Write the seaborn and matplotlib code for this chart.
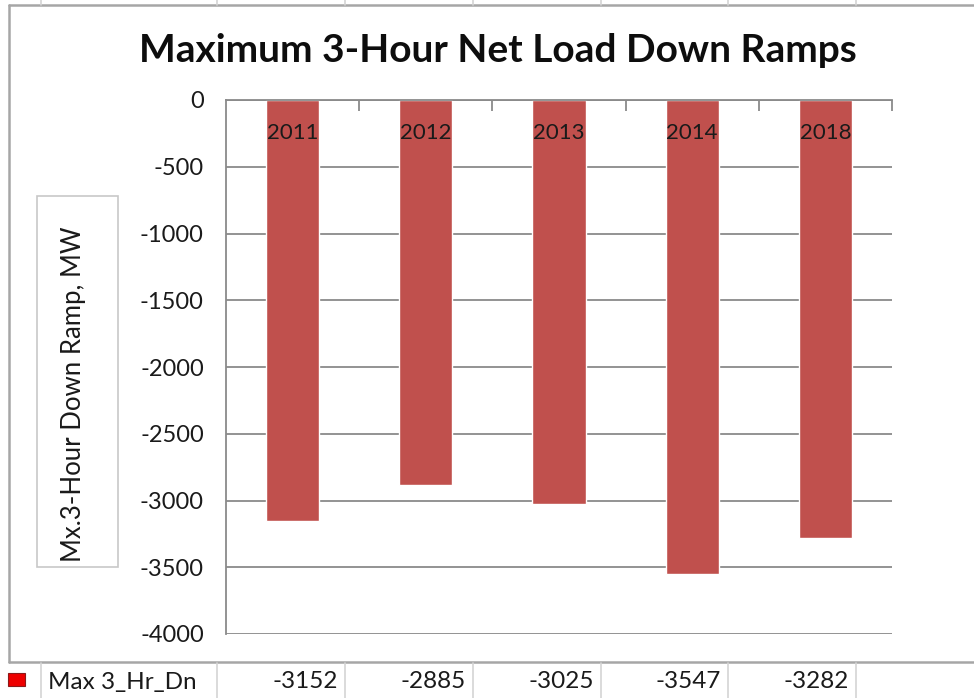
import matplotlib
matplotlib.use("Agg")
import matplotlib.pyplot as plt
from matplotlib.lines import Line2D
from matplotlib.patches import Rectangle
import seaborn as sns
import pandas as pd

# Data
years = ["2011", "2012", "2013", "2014", "2018"]
ramps = [-3152, -2885, -3025, -3547, -3282]
series_name = "Max 3_Hr_Dn"
title = "Maximum 3-Hour Net Load Down Ramps"
ylabel = "Mx.3-Hour Down Ramp, MW"
yticks = [0, -500, -1000, -1500, -2000, -2500, -3000, -3500, -4000]

sns.set_style("white")
plt.rcParams["font.family"] = ["Lato", "DejaVu Sans"]

W, H = 974, 698
fig = plt.figure(figsize=(W / 100, H / 100), dpi=100)


def fx(px):
    return px / W


def fy(py):
    return 1 - py / H


BAR = "#C0504D"
GRID = "#8a8a8a"
TXT = "#1a1a1a"
FRAME = "#a6a6a6"
TABLE = "#d4d4d4"

# Plot area
ax_l, ax_r, ax_t, ax_b = 226, 892, 100, 634
ax = fig.add_axes([fx(ax_l), fy(ax_b), fx(ax_r - ax_l), (ax_b - ax_t) / H])

df = pd.DataFrame({"year": years, "ramp": ramps})
sns.barplot(data=df, x="year", y="ramp", color=BAR, saturation=1, width=0.4,
            ax=ax, zorder=3)

ax.set_xlim(-0.5, len(years) - 0.5)
ax.set_ylim(-4000, 0)
ax.set_yticks(yticks)
ax.set_yticklabels([str(v) for v in yticks], fontsize=17, color=TXT)
ax.grid(axis="y", color=GRID, linewidth=1.3, zorder=0)
ax.grid(axis="x", visible=False)
ax.set_axisbelow(True)

for side in ("right", "bottom"):
    ax.spines[side].set_visible(False)
for side in ("left", "top"):
    ax.spines[side].set_color(GRID)
    ax.spines[side].set_linewidth(1.3)
    ax.spines[side].set_zorder(4)

ax.tick_params(axis="y", direction="out", length=6, width=1.3, color=GRID, pad=10)

# Category axis sits on the zero line, with boundary ticks pointing down
ax.xaxis.tick_top()
ax.set_xticks([i + 0.5 for i in range(len(years))])
ax.set_xticklabels([])
ax.tick_params(axis="x", direction="in", length=8, width=1.3, color=GRID)
ax.set_xlabel("")
ax.set_ylabel("")

# Category names drawn just under the zero line
for i, yr in enumerate(years):
    ax.text(i, -247, yr, ha="center", va="center", fontsize=16, color=TXT, zorder=5)

# Title
fig.text(fx(498), fy(50), title, ha="center", va="center", fontsize=28,
         fontweight="bold", color="#0d0d0d")

# Boxed axis title
fig.patches.append(Rectangle((fx(37), fy(567)), fx(118 - 37), (567 - 196) / H,
                             transform=fig.transFigure, fill=False,
                             edgecolor="#c8c8c8", linewidth=1.2))
fig.text(fx(74), fy(394), ylabel, rotation=90, ha="center", va="center",
         fontsize=18.5, color=TXT)

# Chart frame (left, top, bottom edges)
for xs, ys in (([9, 9], [5, 662]), ([9, W], [5, 5]), ([9, W], [662, 662])):
    fig.lines.append(Line2D([fx(x) for x in xs], [fy(y) for y in ys],
                            transform=fig.transFigure, color=FRAME, linewidth=1.8))

# Data table row below the chart
col_lines = [41, 217, 345, 473, 601, 728, 856]
for x in col_lines:
    fig.lines.append(Line2D([fx(x), fx(x)], [fy(663), fy(698)],
                            transform=fig.transFigure, color=TABLE, linewidth=1.2))
    fig.lines.append(Line2D([fx(x), fx(x)], [fy(0), fy(5)],
                            transform=fig.transFigure, color=TABLE, linewidth=1.2))

fig.patches.append(Rectangle((fx(8), fy(686)), fx(17), 13 / H,
                             transform=fig.transFigure, facecolor="#ee0000",
                             edgecolor="#8b1a1a", linewidth=0.8))
fig.text(fx(48), fy(682), series_name, ha="left", va="center", fontsize=17.5, color=TXT)
for k, v in enumerate(ramps):
    right = col_lines[k + 2] - 7
    fig.text(fx(right), fy(682), str(v), ha="right", va="center", fontsize=17.5,
             color=TXT)

fig.savefig("out.png", dpi=100)
